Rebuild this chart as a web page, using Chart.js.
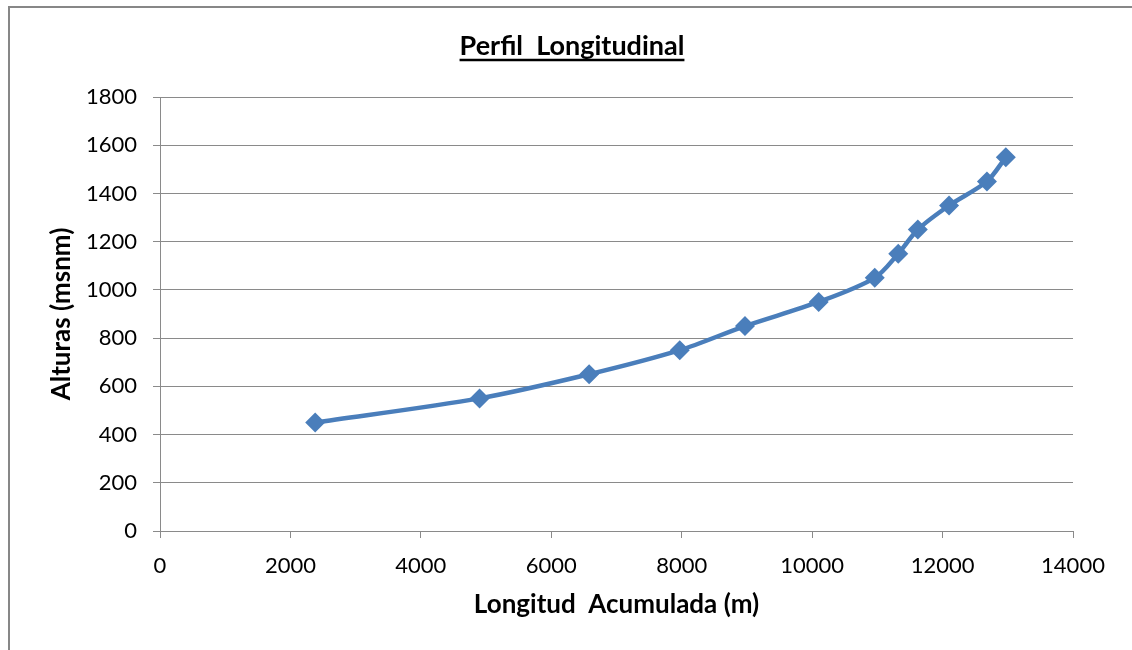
<!DOCTYPE html>
<html>
<head>
<meta charset="utf-8">
<script src="https://cdn.jsdelivr.net/npm/chart.js@4/dist/chart.umd.min.js"></script>
<style>
    html, body { margin: 0; padding: 0; background: #fff; }
    #frame {
        position: absolute; left: 8px; top: 6px; width: 1124px; height: 644px;
        border-left: 2px solid #878787; border-top: 2px solid #878787;
    }
    #wrap { position: absolute; left: 10px; top: 8px; width: 1122px; height: 642px; }
</style>
</head>
<body>
<div id="frame"></div>
<div id="wrap"><canvas id="perfil_chart"></canvas></div>
<script>
    // longitud acumulada (m) y alturas (msnm)
    var longitud = [2380, 4900, 6580, 7970, 8970, 10100, 10960, 11320, 11620, 12100, 12680, 12970];
    var alturas = [450, 550, 650, 750, 850, 950, 1050, 1150, 1250, 1350, 1450, 1550];

    var x_ticks = [0, 2000, 4000, 6000, 8000, 10000, 12000, 14000];
    var y_ticks = [0, 200, 400, 600, 800, 1000, 1200, 1400, 1600, 1800];

    var title_text = 'Perfil  Longitudinal';
    var x_title = 'Longitud  Acumulada (m)';
    var y_title = 'Alturas (msnm)';

    var font_family = 'Lato, "Open Sans", sans-serif';
    var grid_color = '#8a8a8a';
    var line_color = '#4a7ebb';

    function merge(xs, ys) {
        var out = [];
        for (var i = 0; i < xs.length; i++) {
            out.push({x: xs[i], y: ys[i]});
        }
        return out;
    }

    // title drawn by hand, underlined like the original
    var underlinedTitle = {
        id: 'underlinedTitle',
        afterDraw: function(chart) {
            var ctx = chart.ctx;
            var cx = 562, baseline = 47;
            ctx.save();
            ctx.font = 'bold 27px ' + font_family;
            ctx.fillStyle = '#000';
            ctx.textAlign = 'center';
            ctx.textBaseline = 'alphabetic';
            ctx.fillText(title_text, cx, baseline);
            var w = ctx.measureText(title_text).width;
            ctx.strokeStyle = '#000';
            ctx.lineWidth = 2.5;
            ctx.beginPath();
            ctx.moveTo(cx - w / 2, baseline + 5);
            ctx.lineTo(cx + w / 2, baseline + 5);
            ctx.stroke();
            ctx.restore();
        }
    };

    var ctx = document.getElementById('perfil_chart').getContext('2d');
    var chart = new Chart(ctx, {
        type: 'line',
        data: {
            datasets: [{
                label: 'Perfil',
                data: merge(longitud, alturas),
                borderColor: line_color,
                backgroundColor: line_color,
                borderWidth: 4.5,
                tension: 0.3,
                pointStyle: 'rectRot',
                pointRadius: 10,
                pointHoverRadius: 10,
                pointBorderWidth: 0,
                pointBackgroundColor: line_color,
                fill: false,
            }],
        },
        options: {
            responsive: true,
            maintainAspectRatio: false,
            animation: false,
            layout: { padding: { left: 0, right: 59, top: 89, bottom: 20 } },
            plugins: {
                legend: { display: false },
                tooltip: { enabled: false },
                title: { display: false },
            },
            scales: {
                x: {
                    type: 'linear',
                    min: 0,
                    max: 14000,
                    afterBuildTicks: function(scale) {
                        scale.ticks = x_ticks.map(function(v) { return {value: v}; });
                    },
                    afterFit: function(scale) { scale.height = 99; },
                    grid: {
                        drawOnChartArea: false,
                        drawTicks: true,
                        tickLength: 7,
                        color: grid_color,
                    },
                    border: { color: grid_color, width: 1 },
                    ticks: {
                        color: '#000',
                        padding: 15,
                        maxRotation: 0,
                        font: { family: font_family, size: 22 },
                        callback: function(v) { return v; },
                    },
                    title: {
                        display: true,
                        text: x_title,
                        color: '#000',
                        font: { family: font_family, size: 26, weight: 'bold' },
                        padding: { top: 0, bottom: 10 },
                    },
                },
                y: {
                    min: 0,
                    max: 1800,
                    afterBuildTicks: function(scale) {
                        scale.ticks = y_ticks.map(function(v) { return {value: v}; });
                    },
                    afterFit: function(scale) { scale.width = 150; },
                    grid: {
                        color: grid_color,
                        lineWidth: 1,
                        drawTicks: true,
                        tickLength: 7,
                    },
                    border: { color: grid_color, width: 1 },
                    ticks: {
                        color: '#000',
                        padding: 16,
                        font: { family: font_family, size: 22 },
                        callback: function(v) { return v; },
                    },
                    title: {
                        display: true,
                        text: y_title,
                        color: '#000',
                        font: { family: font_family, size: 26, weight: 'bold' },
                        padding: { top: 36, bottom: 0 },
                    },
                },
            },
        },
        plugins: [underlinedTitle],
    });
</script>
</body>
</html>
